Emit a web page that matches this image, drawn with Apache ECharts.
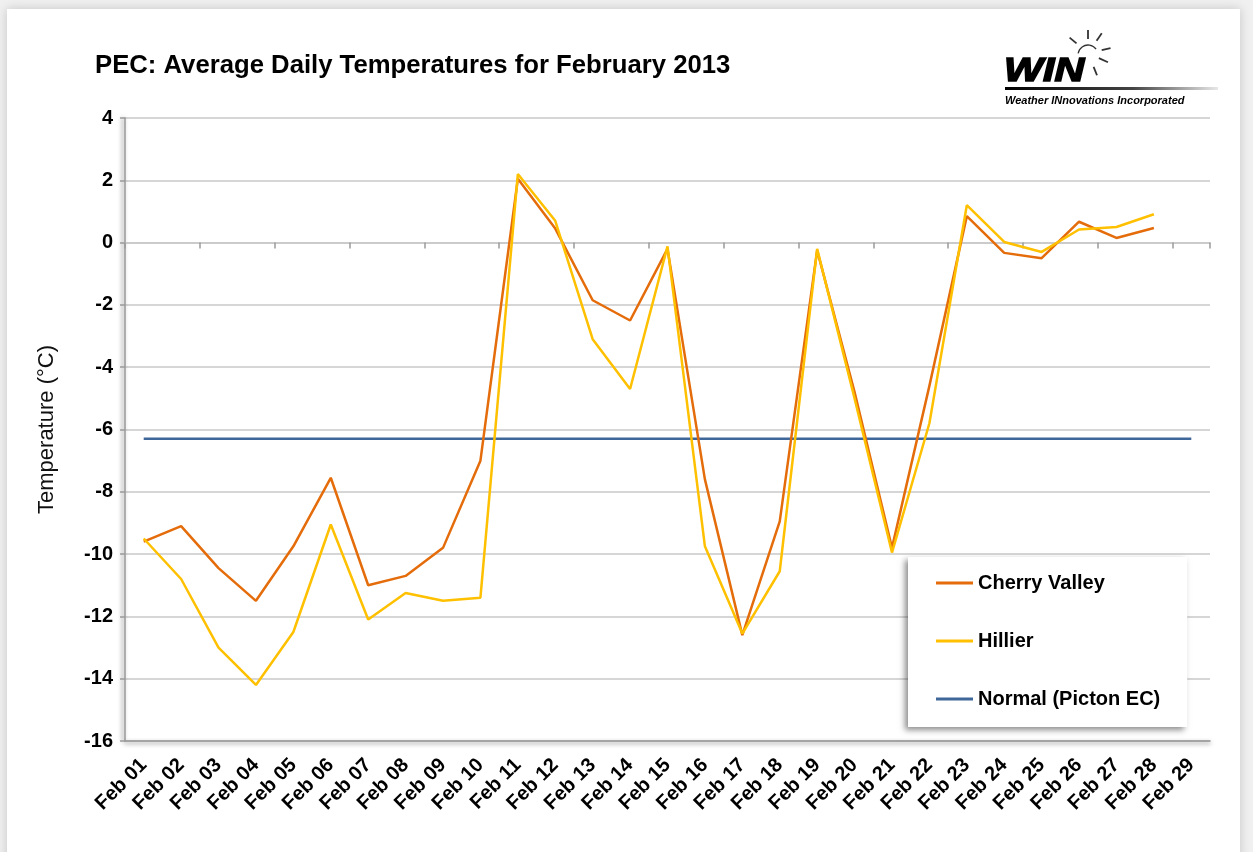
<!DOCTYPE html>
<html>
<head>
<meta charset="utf-8">
<title>PEC: Average Daily Temperatures for February 2013</title>
<script src="https://cdn.jsdelivr.net/npm/echarts@6/dist/echarts.min.js"></script>
<style>
html, body { margin: 0; padding: 0; background: #f0f0f0; }
#main { width: 1253px; height: 852px; }
</style>
</head>
<body>
<div id="main"></div>
<script>
// categories (Feb 29 has no readings, only the normal line reaches it)
var days = ['Feb 01', 'Feb 02', 'Feb 03', 'Feb 04', 'Feb 05', 'Feb 06', 'Feb 07',
	'Feb 08', 'Feb 09', 'Feb 10', 'Feb 11', 'Feb 12', 'Feb 13', 'Feb 14', 'Feb 15',
	'Feb 16', 'Feb 17', 'Feb 18', 'Feb 19', 'Feb 20', 'Feb 21', 'Feb 22', 'Feb 23',
	'Feb 24', 'Feb 25', 'Feb 26', 'Feb 27', 'Feb 28', 'Feb 29'];

// average daily temperature, degrees C
var cherryValley = [-9.6, -9.1, -10.45, -11.5, -9.75, -7.55, -11.0, -10.7, -9.8, -7.0,
	2.05, 0.45, -1.85, -2.5, -0.2, -7.6, -12.6, -8.95, -0.25, -4.8,
	-9.8, -4.6, 0.85, -0.33, -0.5, 0.67, 0.15, 0.47];
var hillier = [-9.5, -10.8, -13.0, -14.2, -12.5, -9.05, -12.1, -11.25, -11.5, -11.4,
	2.2, 0.7, -3.1, -4.7, -0.12, -9.75, -12.55, -10.55, -0.2, -5.0,
	-9.95, -5.8, 1.2, 0.02, -0.3, 0.42, 0.5, 0.91];
var normalPicton = [-6.3, -6.3, -6.3, -6.3, -6.3, -6.3, -6.3, -6.3, -6.3, -6.3,
	-6.3, -6.3, -6.3, -6.3, -6.3, -6.3, -6.3, -6.3, -6.3, -6.3,
	-6.3, -6.3, -6.3, -6.3, -6.3, -6.3, -6.3, -6.3, -6.3];

// y axis ticks
var yMin = -16;
var yMax = 4;
var yStep = 2;

(function() {
	var myChart = echarts.init(document.getElementById('main'));
	var font = '"Liberation Sans", Arial, sans-serif';
	var axisGray = '#9a9a9a';
	var gridGray = '#c8c8c8';

	// little sun over the logo
	var sunX = 1088, sunY = 53;
	var rays = [[-90, 14, 23], [-140, 15, 24], [-55, 15, 24], [-12, 14, 23], [25, 12, 22], [68, 15, 24]];
	var logo = [];
	rays.forEach(function(r) {
		var a = r[0] * Math.PI / 180;
		logo.push({
			type : 'line',
			shape : {
				x1 : sunX + r[1] * Math.cos(a), y1 : sunY + r[1] * Math.sin(a),
				x2 : sunX + r[2] * Math.cos(a), y2 : sunY + r[2] * Math.sin(a)
			},
			style : { stroke : '#333', lineWidth : 1.8 }
		});
	});
	logo.push({
		type : 'arc',
		shape : { cx : sunX, cy : sunY + 2, r : 10, startAngle : Math.PI * 1.05, endAngle : Math.PI * 1.8 },
		style : { stroke : '#333', lineWidth : 1.3, fill : null }
	});
	logo.push({
		type : 'text',
		x : 1004, y : 55,
		scaleX : 1.25,
		style : {
			text : 'WIN', fill : '#000', stroke : '#000', lineWidth : 1.5,
			font : 'italic bold 33px ' + font
		}
	});
	logo.push({
		type : 'rect',
		shape : { x : 1005, y : 87, width : 213, height : 3 },
		style : {
			fill : new echarts.graphic.LinearGradient(0, 0, 1, 0, [
				{ offset : 0, color : '#000' },
				{ offset : 0.6, color : '#444' },
				{ offset : 1, color : '#e8e8e8' } ])
		}
	});
	logo.push({
		type : 'text',
		x : 1005, y : 95,
		style : {
			text : 'Weather INnovations Incorporated', fill : '#000',
			font : 'italic bold 11px ' + font
		}
	});

	myChart.setOption({
		animation : false,
		backgroundColor : '#f0f0f0',
		title : {
			text : 'PEC: Average Daily Temperatures for February 2013',
			left : 95,
			top : 53,
			padding : 0,
			textStyle : {
				fontFamily : font,
				fontSize : 25.7,
				fontWeight : 'bold',
				color : '#000'
			}
		},
		graphic : [ {
			type : 'rect',
			z : -10,
			shape : { x : 7, y : 9, width : 1233, height : 870 },
			style : { fill : '#fff', shadowBlur : 10, shadowColor : 'rgba(0,0,0,0.18)' }
		}, {
			type : 'group',
			children : logo
		} ],
		legend : {
			orient : 'vertical',
			left : 908,
			top : 557,
			data : [ 'Cherry Valley', 'Hillier', 'Normal (Picton EC)' ],
			icon : 'rect',
			itemWidth : 37,
			itemHeight : 3,
			itemGap : 38,
			padding : [ 16, 27, 18, 28 ],
			backgroundColor : '#fff',
			shadowColor : 'rgba(0,0,0,0.45)',
			shadowBlur : 6,
			shadowOffsetX : -3,
			shadowOffsetY : 3,
			selectedMode : false,
			textStyle : {
				fontFamily : font,
				fontSize : 20,
				fontWeight : 'bold',
				color : '#000'
			}
		},
		grid : {
			left : 125,
			right : 43,
			top : 118,
			bottom : 111,
			containLabel : false,
			outerBoundsMode : 'none'
		},
		xAxis : [ {
			type : 'category',
			data : days,
			position : 'bottom',
			axisLine : {
				onZero : false,
				lineStyle : {
					color : axisGray, width : 1.5,
					shadowColor : 'rgba(0,0,0,0.5)', shadowBlur : 4, shadowOffsetY : 2
				}
			},
			axisTick : { show : false },
			axisLabel : {
				interval : 0,
				rotate : 45,
				margin : 21,
				fontFamily : font,
				fontSize : 20,
				fontWeight : 'bold',
				color : '#000'
			},
			splitLine : { show : false }
		}, {
			// tick marks along the zero line
			type : 'category',
			data : days,
			position : 'bottom',
			axisLine : {
				onZero : true,
				lineStyle : { color : gridGray, width : 1.5 }
			},
			axisTick : {
				show : true,
				length : 6,
				lineStyle : { color : axisGray, width : 1.5 }
			},
			axisLabel : { show : false },
			splitLine : { show : false }
		} ],
		yAxis : {
			type : 'value',
			min : yMin,
			max : yMax,
			interval : yStep,
			name : 'Temperature (°C)',
			nameLocation : 'middle',
			nameGap : 67,
			nameTextStyle : {
				fontFamily : font,
				fontSize : 22,
				color : '#111'
			},
			axisLine : {
				show : true,
				lineStyle : {
					color : axisGray, width : 1.5,
					shadowColor : 'rgba(0,0,0,0.5)', shadowBlur : 4, shadowOffsetX : -2
				}
			},
			axisTick : {
				show : true,
				length : 5,
				lineStyle : { color : axisGray, width : 1.5 }
			},
			axisLabel : {
				margin : 12,
				fontFamily : font,
				fontSize : 20,
				fontWeight : 'bold',
				color : '#000'
			},
			splitLine : {
				lineStyle : { color : gridGray, width : 1.5 }
			}
		},
		series : [ {
			name : 'Cherry Valley',
			type : 'line',
			data : cherryValley,
			symbol : 'none',
			z : 3,
			itemStyle : { color : '#E46C0A' },
			lineStyle : { color : '#E46C0A', width : 2.5 }
		}, {
			name : 'Hillier',
			type : 'line',
			data : hillier,
			symbol : 'none',
			z : 4,
			itemStyle : { color : '#FFC000' },
			lineStyle : { color : '#FFC000', width : 2.5 }
		}, {
			name : 'Normal (Picton EC)',
			type : 'line',
			data : normalPicton,
			symbol : 'none',
			z : 2,
			itemStyle : { color : '#3F679A' },
			lineStyle : { color : '#3F679A', width : 2.5 }
		} ]
	});
})();
</script>
</body>
</html>
